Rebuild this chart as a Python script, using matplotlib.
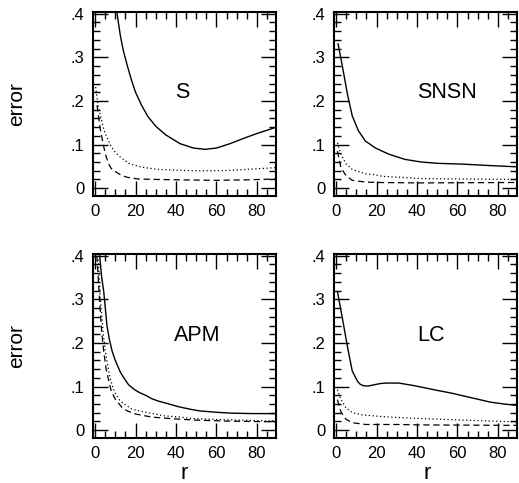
import matplotlib
matplotlib.use("Agg")
import matplotlib.pyplot as plt
from matplotlib.ticker import MultipleLocator, FixedFormatter, FixedLocator

plt.rcParams['font.family'] = ['Liberation Sans', 'DejaVu Sans']

# panel S
s_solid_r = [10.9, 12.5, 14, 16, 18, 20, 23, 26, 30, 35, 42, 48.6, 54.3, 60, 66.7, 73.3, 79.8, 89]
s_solid_v = [0.40, 0.35, 0.315, 0.28, 0.248, 0.22, 0.19, 0.165, 0.142, 0.122, 0.102, 0.092, 0.089,
             0.092, 0.102, 0.114, 0.125, 0.139]
s_dot_r = [0.3, 1.5, 2.6, 4, 5.1, 7.5, 9.5, 12, 16.6, 19, 23.2, 31, 42, 47, 63, 75, 89]
s_dot_v = [0.232, 0.19, 0.168, 0.14, 0.125, 0.1, 0.085, 0.073, 0.057, 0.053, 0.048, 0.043, 0.041,
           0.040, 0.040, 0.043, 0.047]
s_dash_r = [1, 2.6, 4.3, 5.5, 6.7, 8, 10, 12.5, 15, 18, 21.6, 30, 42, 60, 75, 89]
s_dash_v = [0.19, 0.135, 0.095, 0.072, 0.056, 0.045, 0.038, 0.031, 0.026, 0.023, 0.021, 0.020,
            0.019, 0.018, 0.019, 0.021]

# panel SNSN
sn_solid_r = [1, 3.2, 5.7, 8, 11, 14.5, 19.5, 26, 34, 42, 50, 63, 75, 89]
sn_solid_v = [0.331, 0.278, 0.214, 0.166, 0.132, 0.108, 0.092, 0.078, 0.066, 0.06, 0.057, 0.055,
              0.052, 0.049]
sn_dot_r = [0.7, 2.4, 4.9, 8, 11, 14.7, 19, 23, 31, 42, 60, 89]
sn_dot_v = [0.104, 0.078, 0.056, 0.043, 0.038, 0.033, 0.031, 0.027, 0.025, 0.022, 0.021, 0.020]
sn_dash_r = [0.7, 2.4, 4.9, 8, 11, 14.7, 20, 42, 89]
sn_dash_v = [0.085, 0.047, 0.029, 0.018, 0.016, 0.014, 0.013, 0.012, 0.013]

# panel APM
apm_solid_r = [2.3, 3.3, 4.3, 5.9, 7, 8.4, 10, 12.5, 14.5, 16.6, 19.5, 22, 25, 28.1, 31, 35, 41,
               47, 52, 60, 67, 78, 89]
apm_solid_v = [0.40, 0.35, 0.318, 0.24, 0.21, 0.182, 0.16, 0.133, 0.118, 0.104, 0.093, 0.086,
               0.080, 0.072, 0.067, 0.062, 0.054, 0.048, 0.044, 0.041, 0.039, 0.038, 0.038]
apm_dot_r = [1.5, 2.5, 3.5, 4.1, 5.1, 6.6, 7.6, 9, 10, 12, 14, 18.3, 22, 25, 34, 42, 47, 63, 89]
apm_dot_v = [0.40, 0.31, 0.253, 0.22, 0.18, 0.14, 0.117, 0.095, 0.085, 0.07, 0.061, 0.048, 0.044,
             0.041, 0.033, 0.030, 0.027, 0.024, 0.021]
apm_dash_r = [0.9, 2.3, 3.3, 4.3, 5.5, 6.7, 8, 10, 13.3, 16, 20, 28, 38.7, 50, 63, 89]
apm_dash_v = [0.40, 0.293, 0.225, 0.18, 0.14, 0.115, 0.09, 0.071, 0.052, 0.044, 0.037, 0.03,
              0.026, 0.023, 0.021, 0.019]

# panel LC
lc_solid_r = [0.7, 3.2, 5.7, 8, 10.6, 12, 13.5, 15.6, 18.8, 22, 25, 31, 38.7, 44, 50.2, 57, 63.4,
              70, 76.5, 83, 89]
lc_solid_v = [0.318, 0.255, 0.19, 0.136, 0.112, 0.105, 0.102, 0.101, 0.104, 0.107, 0.108, 0.108,
              0.102, 0.097, 0.091, 0.085, 0.078, 0.071, 0.064, 0.06, 0.057]
lc_dot_r = [0.7, 2.4, 4.9, 8.1, 13, 23, 40, 63, 89]
lc_dot_v = [0.093, 0.07, 0.051, 0.04, 0.035, 0.031, 0.027, 0.023, 0.019]
lc_dash_r = [0.7, 2.4, 4.9, 8.1, 14.7, 30, 42, 89]
lc_dash_v = [0.07, 0.042, 0.025, 0.017, 0.013, 0.013, 0.012, 0.011]

panel_names = ['S', 'SNSN', 'APM', 'LC']
label_pos = [(43.3, 0.22), (54.9, 0.22), (50.5, 0.216), (46.7, 0.216)]
ytick_vals = [0, 0.1, 0.2, 0.3, 0.4]
ytick_text = ['0', '.1', '.2', '.3', '.4']

W, H = 519, 483
boxes = [(93, 12), (334, 12), (93, 254), (334, 254)]


def draw_panel(ax, name, pos, solid, dot, dash):
    ax.plot(solid[0], solid[1], color='black', lw=1.0, linestyle='-')
    ax.plot(dot[0], dot[1], color='black', lw=0.9, linestyle=(0, (1, 2)))
    ax.plot(dash[0], dash[1], color='black', lw=0.9, linestyle=(0, (5, 3)))
    ax.set_xlim(-1, 89.4)
    ax.set_ylim(-0.018, 0.404)
    ax.xaxis.set_major_locator(MultipleLocator(20))
    ax.xaxis.set_minor_locator(MultipleLocator(5))
    ax.yaxis.set_major_locator(FixedLocator(ytick_vals))
    ax.yaxis.set_major_formatter(FixedFormatter(ytick_text))
    ax.yaxis.set_minor_locator(MultipleLocator(0.02))
    ax.tick_params(which='both', direction='in', top=True, right=True, width=1.0, labelsize=12, pad=6)
    ax.tick_params(which='major', length=11)
    ax.tick_params(which='minor', length=5)
    for sp in ax.spines.values():
        sp.set_linewidth(1.5)
    ax.text(pos[0], pos[1], name, fontsize=15.5, ha='center', va='center')


fig = plt.figure(figsize=(W / 100, H / 100), dpi=100)
data = [
    ((s_solid_r, s_solid_v), (s_dot_r, s_dot_v), (s_dash_r, s_dash_v)),
    ((sn_solid_r, sn_solid_v), (sn_dot_r, sn_dot_v), (sn_dash_r, sn_dash_v)),
    ((apm_solid_r, apm_solid_v), (apm_dot_r, apm_dot_v), (apm_dash_r, apm_dash_v)),
    ((lc_solid_r, lc_solid_v), (lc_dot_r, lc_dot_v), (lc_dash_r, lc_dash_v)),
]
for k in range(4):
    x0, y0 = boxes[k]
    ax = fig.add_axes([x0 / W, 1 - (y0 + 184) / H, 183 / W, 184 / H])
    draw_panel(ax, panel_names[k], label_pos[k], data[k][0], data[k][1], data[k][2])

fig.text(17 / W, 1 - 104 / H, 'error', rotation=90, fontsize=15, ha='center', va='center')
fig.text(17 / W, 1 - 346 / H, 'error', rotation=90, fontsize=15, ha='center', va='center')
fig.text(184.5 / W, 4 / H, 'r', fontsize=16, ha='center', va='baseline')
fig.text(427 / W, 4 / H, 'r', fontsize=16, ha='center', va='baseline')

fig.savefig('out.png', dpi=100)
